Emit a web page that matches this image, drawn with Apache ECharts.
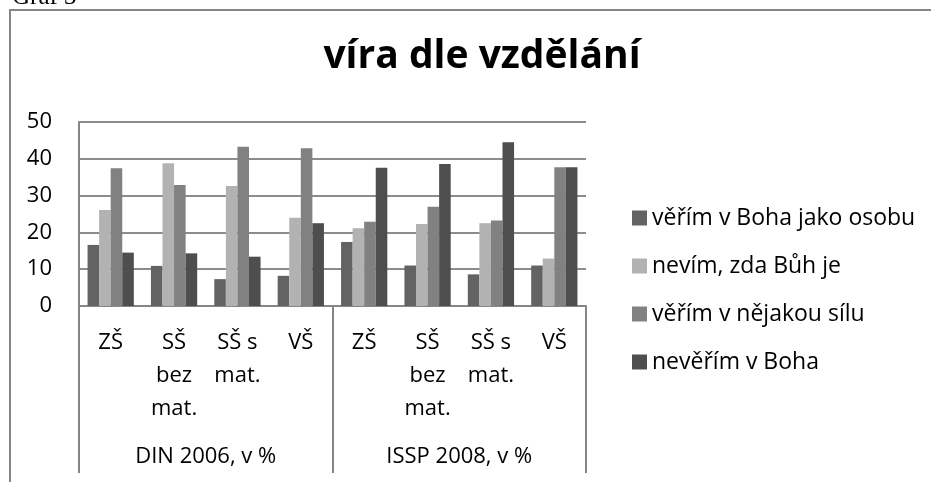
<!DOCTYPE html>
<html>
<head>
<meta charset="utf-8">
<script src="https://cdn.jsdelivr.net/npm/echarts@6/dist/echarts.min.js"></script>
<style>
  html, body { margin: 0; padding: 0; background: #fff; }
  #chart { width: 931px; height: 482px; }
</style>
</head>
<body>
<div id="chart"></div>
<script>
// kategorie a skupiny na ose x
var categories = ["ZŠ", "SŠ\nbez\nmat.", "SŠ s\nmat.", "VŠ", "ZŠ", "SŠ\nbez\nmat.", "SŠ s\nmat.", "VŠ"];
var groups = ["DIN 2006, v %", "ISSP 2008, v %"];
var seriesNames = ["věřím v Boha jako osobu", "nevím, zda Bůh je", "věřím v nějakou sílu", "nevěřím v Boha"];

// hodnoty v %
var osobu = [16.6, 10.9, 7.3, 8.2, 17.4, 11.0, 8.6, 11.0];
var nevim = [26.1, 38.8, 32.6, 24.0, 21.1, 22.3, 22.5, 12.9];
var sila = [37.4, 32.9, 43.3, 42.9, 22.9, 27.0, 23.2, 37.7];
var neverim = [14.5, 14.3, 13.4, 22.5, 37.6, 38.6, 44.5, 37.7];

var yTicks = [0, 10, 20, 30, 40, 50];

var font = "Open Sans";
var chart = echarts.init(document.getElementById("chart"));

function bar(name, data) {
  return {
    name: name,
    type: "bar",
    data: data,
    barGap: "0%",
    barCategoryGap: "27%",
  };
}

chart.setOption({
  animation: false,
  color: ["#636363", "#b2b2b2", "#818181", "#4e4e4e"],
  textStyle: { fontFamily: font },
  title: {
    text: "víra dle vzdělání",
    left: 477,
    top: 32,
    textAlign: "center",
    textStyle: { fontFamily: font, fontWeight: "bold", fontSize: 39, color: "#000" },
  },
  graphic: [
    {
      type: "rect",
      shape: { x: 10, y: 10, width: 1000, height: 600 },
      style: { fill: "none", stroke: "#868686", lineWidth: 2 },
      silent: true,
      z: -10,
    },
    {
      type: "text",
      x: 12,
      y: -15,
      style: { text: "Graf 3", font: "25px 'Liberation Serif'", fill: "#000" },
    },
  ],
  legend: {
    orient: "vertical",
    left: 627,
    top: 201,
    itemWidth: 15,
    itemHeight: 15,
    itemGap: 24,
    icon: "rect",
    data: seriesNames,
    textStyle: { fontFamily: font, fontSize: 23, lineHeight: 24, color: "#000" },
  },
  grid: { left: 79, top: 122, width: 507, height: 184, containLabel: false },
  xAxis: [
    {
      type: "category",
      data: categories,
      position: "bottom",
      axisLine: { lineStyle: { color: "#868686", width: 2 } },
      axisTick: { show: false },
      axisLabel: { fontFamily: font, fontSize: 22, lineHeight: 33, color: "#000", margin: 20, interval: 0 },
    },
    {
      type: "category",
      data: groups,
      position: "bottom",
      axisLine: { show: false },
      axisTick: { show: true, length: 167, lineStyle: { color: "#868686", width: 2 } },
      axisLabel: { fontFamily: font, fontSize: 22, lineHeight: 33, color: "#000", margin: 134 },
    },
  ],
  yAxis: {
    type: "value",
    min: yTicks[0],
    max: yTicks[yTicks.length - 1],
    interval: 10,
    axisLine: { show: true, lineStyle: { color: "#868686", width: 2 } },
    axisTick: { show: false },
    splitLine: { lineStyle: { color: "#8c8c8c", width: 2 } },
    axisLabel: { fontFamily: font, fontSize: 22, color: "#000", margin: 27 },
  },
  series: [bar(seriesNames[0], osobu), bar(seriesNames[1], nevim), bar(seriesNames[2], sila), bar(seriesNames[3], neverim)],
});
</script>
</body>
</html>
